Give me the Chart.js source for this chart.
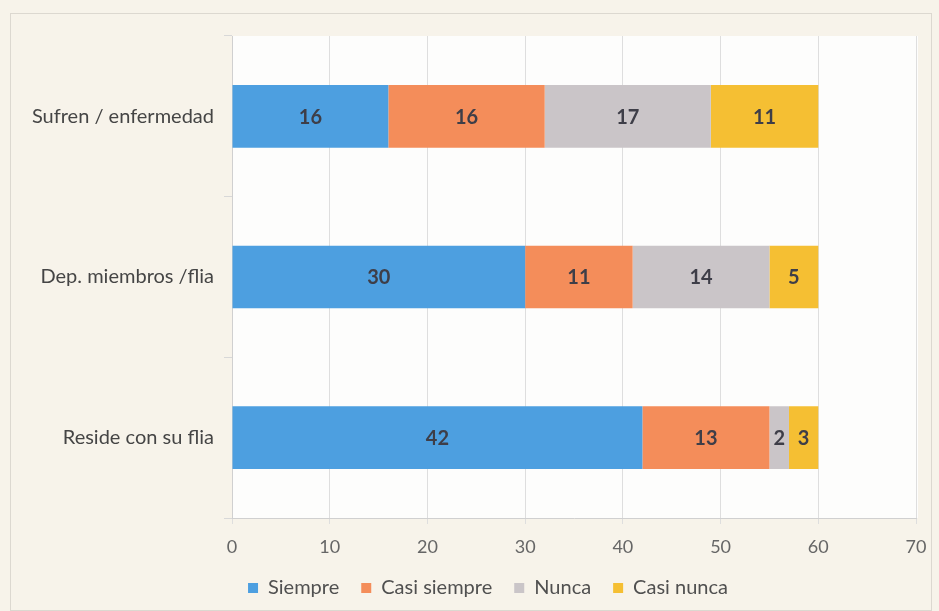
<!DOCTYPE html>
<html>
<head>
<meta charset="utf-8">
<script src="https://cdn.jsdelivr.net/npm/chart.js@4"></script>
<style>
  html, body { margin: 0; padding: 0; background: #f7f3ea; }
  #wrap { width: 939px; height: 611px; }
</style>
</head>
<body>
<div id="wrap"><canvas id="chart" width="939" height="611"></canvas></div>
<script>
const categories = ["Sufren / enfermedad", "Dep. miembros /flia", "Reside con su flia"];
const seriesNames = ["Siempre", "Casi siempre", "Nunca", "Casi nunca"];
const siempre = [16, 30, 42];
const casiSiempre = [16, 11, 13];
const nunca = [17, 14, 2];
const casiNunca = [11, 5, 3];
const xTicks = [0, 10, 20, 30, 40, 50, 60, 70];

const colors = ["#4d9fe0", "#f48d5a", "#cac5c8", "#f5bf33"];

const AXIS_Y = 518;      // bottom of plot area
const LEGEND_MID = 588;  // vertical centre of legend text

// backgrounds: cream page frame and white plot area, legend nudged into place
const backgroundPlugin = {
  id: "bg",
  afterLayout(chart) {
    const lg = chart.legend;
    if (lg) {
      const h = lg.height;
      lg.left = 60;
      lg.top = LEGEND_MID - lg.options.labels.padding - 10;
      lg.bottom = lg.top + h;
    }
  },
  beforeDraw(chart) {
    const ctx = chart.ctx;
    ctx.save();
    ctx.fillStyle = "#f7f3ea";
    ctx.fillRect(0, 0, chart.width, chart.height);
    ctx.strokeStyle = "#dcd8d0";
    ctx.lineWidth = 1;
    ctx.strokeRect(10.5, 13.5, chart.width - 18, chart.height - 14);
    const a = chart.chartArea;
    ctx.fillStyle = "#fdfdfc";
    ctx.fillRect(a.left, a.top, a.right - a.left + 2, a.bottom - a.top);
    ctx.restore();
  }
};

// value labels centred in each segment
const labelPlugin = {
  id: "segLabels",
  afterDatasetsDraw(chart) {
    const ctx = chart.ctx;
    ctx.save();
    ctx.font = "bold 20px Lato";
    ctx.fillStyle = "#3e3e48";
    ctx.textAlign = "center";
    ctx.textBaseline = "middle";
    chart.data.datasets.forEach((ds, i) => {
      chart.getDatasetMeta(i).data.forEach((bar, j) => {
        const v = ds.data[j];
        const cx = (bar.x + bar.base) / 2;
        ctx.fillText(String(v), cx, bar.y + 1);
      });
    });
    ctx.restore();
  }
};

const seriesData = [siempre, casiSiempre, nunca, casiNunca];

new Chart(document.getElementById("chart").getContext("2d"), {
  type: "bar",
  data: {
    labels: categories,
    datasets: seriesNames.map((name, i) => ({
      label: name,
      data: seriesData[i],
      backgroundColor: colors[i],
      borderWidth: 0,
      categoryPercentage: 1,
      barPercentage: 0.39,
    })),
  },
  options: {
    indexAxis: "y",
    responsive: false,
    animation: false,
    layout: { padding: { top: 36, right: 23, left: 10, bottom: 4 } },
    scales: {
      x: {
        stacked: true,
        min: 0,
        max: 70,
        afterBuildTicks(scale) {
          scale.ticks = xTicks.map((v) => ({ value: v }));
        },
        afterFit(scale) {
          const lg = scale.chart.legend;
          const lh = lg ? lg.height : 0;
          scale.height = Math.max(20, 611 - AXIS_Y - lh - 4);
        },
        grid: { color: "#dedede", tickLength: 6 },
        border: { color: "#d0d0d0" },
        ticks: {
          color: "#666666",
          font: { family: "Lato", size: 18 },
          padding: 12,
        },
      },
      y: {
        stacked: true,
        afterFit(scale) {
          scale.width = 222;
        },
        grid: { drawOnChartArea: false, color: "#d8d8d8", tickLength: 8 },
        border: { color: "#d0d0d0" },
        ticks: {
          color: "#454545",
          font: { family: "Lato", size: 20 },
          padding: 10,
        },
      },
    },
    plugins: {
      legend: {
        position: "bottom",
        labels: {
          boxWidth: 10,
          boxHeight: 10,
          color: "#505050",
          font: { family: "Lato", size: 20 },
          padding: 22,
        },
      },
      tooltip: { enabled: false },
    },
  },
  plugins: [backgroundPlugin, labelPlugin],
});
</script>
</body>
</html>
